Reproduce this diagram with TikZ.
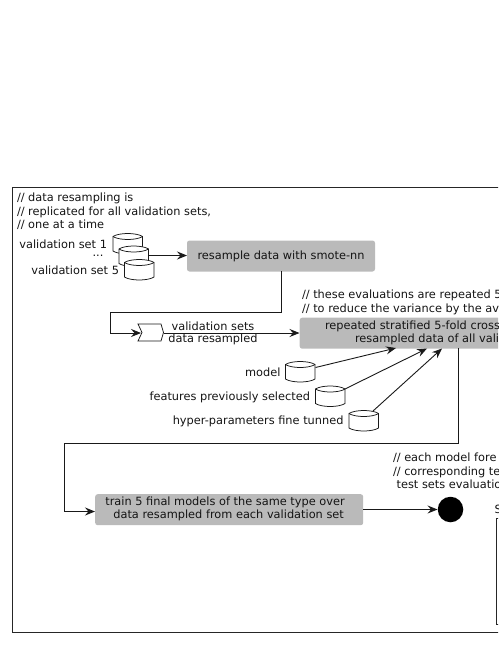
\documentclass[tikz,border=0pt]{standalone}
\usepackage{fontspec}
\setmainfont{DejaVu Sans}
\usetikzlibrary{arrows.meta}
\tikzset{
  txt/.style={inner sep=0pt,outer sep=0pt,font=\fontsize{11.35pt}{13.4pt}\selectfont,text=black!92},
  graybox/.style={draw=none,fill=black!27,rounded corners=2.5pt},
  conn/.style={draw=black!90,line width=0.9pt,-{Stealth[length=10pt,width=8pt,inset=3.5pt]}},
  frameline/.style={draw=black!85,line width=0.9pt},
}
\newcommand{\dbcyl}[3]{% name, x, top y
  \coordinate (#1-ne) at (#2+29.5,#3+3.5);
  \draw[fill=white,draw=black!90,line width=0.75pt] (#2,#3+3.5) -- (#2,#3+18)
     .. controls (#2+6,#3+22) and (#2+23.5,#3+22) .. (#2+29.5,#3+18) -- (#2+29.5,#3+3.5)
     .. controls (#2+23.5,#3-0.5) and (#2+6,#3-0.5) .. (#2,#3+3.5) -- cycle;
  \draw[draw=black!90,line width=0.75pt] (#2,#3+3.5)
     .. controls (#2+6,#3+7.5) and (#2+23.5,#3+7.5) .. (#2+29.5,#3+3.5);
}
\begin{document}
\begin{tikzpicture}[x=1pt,y=-1pt]
\useasboundingbox (0,0) rectangle (498,645);
\clip (0,0) rectangle (498,645);
% outer frame
\coordinate (f-a) at (520,187.5);
\coordinate (f-b) at (12.5,187.5);
\coordinate (f-c) at (12.5,632);
\coordinate (f-d) at (520,632);
\draw[frameline] (f-a) -- (f-b) -- (f-c) -- (f-d);
% comment 1
\node[txt,anchor=north west,align=left] (c1) at (17,193) {// data resampling is\\// replicated for all validation sets,\\// one at a time};
% cylinders
\dbcyl{a}{113}{233}
\dbcyl{b}{119}{245.5}
\dbcyl{c}{124.5}{259}
\node[txt,anchor=east] (l1) at (107,244.5) {validation set 1};
\node[txt,anchor=center] (l2) at (98,256) {...};
\node[txt,anchor=east] (l3) at (119,270) {validation set 5};
% resample
\node[graybox,minimum width=188pt,minimum height=31pt,anchor=north west,txt] (res) at (187,240.5) {resample data with smote-nn};
\coordinate (b-out) at (148,255.5);
\draw[conn] (b-out) -- (res.west |- b-out);
% pin
\draw[fill=white,draw=black!90,line width=0.75pt] (138,324) -- (161,324) -- (163.5,332.5) -- (161,341) -- (138,341) -- (142,332.5) -- cycle;
\coordinate (t1) at (281,271);
\coordinate (t2) at (281,312.5);
\coordinate (t3) at (110.5,312.5);
\coordinate (t4) at (110.5,333);
\coordinate (pin-in) at (141,333);
\draw[conn] (t1) -- (t2) -- (t3) -- (t4) -- (pin-in);
\node[txt,anchor=center] (v1) at (213,326) {validation sets};
\node[txt,anchor=center] (v2) at (213,339.5) {data resampled};
% cv box
\node[graybox,minimum width=230pt,minimum height=31pt,anchor=north west] (cv) at (299.5,317.5) {};
\coordinate (pin-out) at (163.5,333);
\draw[conn] (pin-out) -- (cv.west |- pin-out);
\node[txt,anchor=west] (cv1) at (325,326) {repeated stratified 5-fold cross};
\node[txt,anchor=west] (cv2) at (355,339.5) {resampled data of all vali};
\node[txt,anchor=north west,align=left] (c2) at (302,290) {// these evaluations are repeated 5\\// to reduce the variance by the av};
% inputs
\dbcyl{m}{285.5}{361}
\dbcyl{f}{315.5}{385.5}
\dbcyl{h}{349}{410}
\node[txt,anchor=east] (ml) at (280.5,372.5) {model};
\node[txt,anchor=east] (fl) at (310,397) {features previously selected};
\node[txt,anchor=east] (hl) at (343.5,421) {hyper-parameters fine tunned};
\coordinate (cvm) at (396,348);
\coordinate (cvf) at (427,348.5);
\coordinate (cvh) at (442,348.5);
\coordinate (ms) at (315.5,367.5);
\coordinate (fs) at (345,389);
\coordinate (hs) at (373,411);
\draw[conn] (ms) -- (cvm);
\draw[conn] (fs) -- (cvf);
\draw[conn] (hs) -- (cvh);
% train
\node[graybox,minimum width=268pt,minimum height=31pt,anchor=north west] (tr) at (95,494) {};
\node[txt,anchor=center,align=center] (trt) at (225,509) {train 5 final models of the same type over\\\ \ data resampled from each validation set};
\coordinate (s1) at (458.5,348);
\coordinate (s2) at (458.5,443.5);
\coordinate (s3) at (64.5,443.5);
\coordinate (s4) at (64.5,511.5);
\draw[conn] (s1) -- (s2) -- (s3) -- (s4) -- (tr.west |- s4);
% circle
\node[circle,fill=black,minimum size=25.5pt,inner sep=0pt] (dot) at (450.5,509.5) {};
\draw[conn] (tr.east |- dot) -- (dot.west);
\node[txt,anchor=north west,align=left] (c3) at (393,453) {// each model fore\\// corresponding te\\\ test sets evaluatio};
% right box
\node[txt,anchor=west] (s) at (494.5,509.5) {S};
\coordinate (r1) at (500,518.5);
\coordinate (r2) at (496.5,518.5);
\coordinate (r3) at (496.5,624);
\coordinate (r4) at (500,624);
\draw[frameline] (r1) -- (r2) -- (r3) -- (r4);
\end{tikzpicture}
\end{document}
